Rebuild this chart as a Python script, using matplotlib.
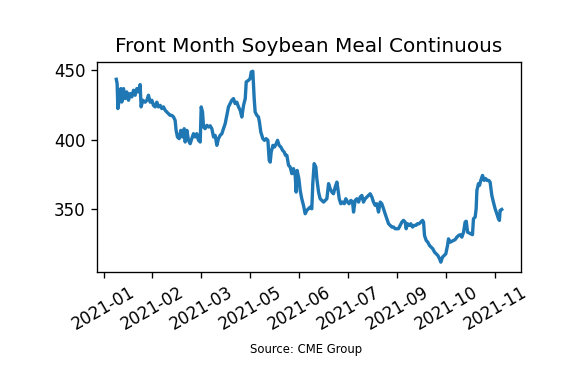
import matplotlib
matplotlib.use("Agg")
import matplotlib.pyplot as plt
import matplotlib.dates as mdates
import pandas as pd


start = pd.Timestamp("2021-01-19 12:00")

# days after start / settle price
days = [
    0.9, 1.6, 2.2, 3.5, 4.6, 5.4, 6.8, 8.2, 9.5, 10.9,
    12.3, 13.6, 15.0, 16.3, 17.7, 19.1, 20.4, 21.2, 22.6, 24.5,
    25.9, 27.2, 28.6, 30.0, 31.3, 32.7, 34.0, 35.4, 36.8, 38.1,
    39.5, 40.9, 42.2, 43.6, 44.9, 46.3, 47.7, 49.0, 49.8, 50.9,
    52.3, 53.7, 55.0, 56.4, 57.2, 58.6, 59.9, 61.3, 62.6, 64.0,
    65.4, 66.7, 68.1, 69.5, 70.3, 71.4, 72.2, 73.5, 74.9, 76.3,
    77.6, 79.0, 80.4, 81.7, 83.1, 84.4, 85.8, 87.2, 88.5, 89.9,
    91.2, 92.6, 94.0, 95.3, 96.7, 98.0, 99.4, 100.8,
    102.2, 103.5, 104.9, 106.3, 107.1, 109.0, 110.3, 111.2, 112.5, 113.6,
    114.4, 115.8, 117.1, 117.9, 119.0, 120.7, 122.0, 123.4, 124.8, 125.9,
    126.7, 127.5, 128.9, 130.2, 131.6, 132.7, 134.0, 135.4, 136.8, 138.1,
    139.2, 140.3, 141.7, 143.0, 144.4, 145.7, 147.1, 147.9, 148.7, 150.1,
    151.2, 152.5, 153.9, 155.3, 156.6, 158.0, 159.4, 160.7, 161.5, 162.6,
    164.0, 164.8, 166.2, 167.5, 168.9, 170.3, 171.6, 173.0, 174.4, 175.7,
    177.1, 178.4, 179.8, 181.2, 182.0, 183.1, 184.4, 185.8, 187.2, 188.5,
    189.9, 191.2, 192.6, 194.0, 194.8, 196.1, 197.5, 198.9, 200.2, 201.6,
    202.9, 204.3, 205.7, 207.0, 208.4, 209.8, 211.1, 212.5, 213.8, 215.2,
    216.6, 217.9, 219.3, 220.6, 222.0, 223.4, 224.7, 226.1, 227.5, 228.8,
    230.2, 231.5, 232.9, 234.3, 235.6, 237.0, 237.8, 238.9, 240.3, 241.6,
    243.0, 244.4, 245.7, 247.1, 248.4, 249.8, 251.2, 252.0, 252.8, 254.2,
    255.5, 256.9, 258.3, 259.6, 261.0, 262.3, 263.7, 265.1, 266.1, 267.5,
    268.9, 270.2, 271.6, 272.4, 273.8, 275.1, 276.5, 277.9, 279.2, 280.6,
    282.0, 283.3, 284.7, 286.0, 286.9, 288.0, 289.3, 290.7, 292.0, 292.8,
    294.2, 295.0, 295.6, 296.9, 297.7, 298.8, 300.2, 301.5, 302.6, 304.0,
    305.3, 306.4, 307.8, 309.1, 310.5, 311.9, 313.2, 314.0, 314.6, 315.9,
]

price = [
    443.5, 440.4, 422.4, 429.6, 436.8, 427.1, 436.8, 429.6, 434.4, 428.4,
    433.2, 430.8, 435.6, 432.0, 436.8, 434.4, 439.7, 423.6, 428.4, 427.0,
    428.4, 432.0, 427.0, 428.4, 424.7, 423.6, 427.0, 423.6, 424.7, 422.4,
    423.6, 421.1, 419.9, 418.7, 417.5, 417.5, 416.3, 413.9, 406.7, 401.9,
    400.7, 406.7, 401.9, 407.9, 398.3, 406.7, 399.5, 397.1, 400.7, 404.3,
    401.9, 404.3, 399.5, 398.3, 423.6, 419.9, 409.1, 407.9, 410.3, 409.1,
    410.0, 407.9, 401.9, 403.1, 395.9, 400.7, 403.1, 404.3, 407.9, 411.5,
    417.5, 423.6, 426.0, 428.4, 429.6, 426.0, 427.0, 423.6,
    421.1, 416.3, 424.7, 429.6, 441.6, 442.8, 444.0, 448.8, 449.3, 429.6,
    419.9, 417.5, 416.3, 412.7, 405.5, 400.7, 399.5, 400.7, 399.5, 385.0,
    383.8, 391.0, 395.9, 394.7, 397.1, 399.5, 395.9, 394.7, 392.3, 391.1,
    388.7, 388.7, 381.5, 380.3, 375.5, 379.1, 374.2, 362.2, 377.8, 371.9,
    363.4, 357.4, 352.6, 346.6, 349.0, 350.2, 351.4, 350.2, 368.3, 382.7,
    380.3, 371.9, 362.2, 357.4, 356.2, 355.0, 356.2, 357.4, 368.3, 364.6,
    362.2, 361.0, 365.8, 369.4, 364.6, 357.4, 353.8, 355.0, 353.8, 357.4,
    355.0, 353.8, 356.2, 355.0, 347.8, 356.2, 357.4, 355.0, 358.6, 359.8,
    355.0, 357.4, 358.6, 359.8, 361.0, 358.6, 355.0, 352.6, 353.8, 347.8,
    355.0, 353.8, 350.2, 346.6, 343.0, 339.4, 338.2, 337.0, 337.0, 335.8,
    335.8, 335.8, 338.2, 340.6, 341.8, 340.6, 335.8, 339.4, 338.2, 339.4,
    337.0, 338.2, 338.2, 339.4, 339.4, 340.6, 341.8, 340.6, 330.9, 327.3,
    326.1, 323.7, 322.5, 321.3, 318.9, 317.7, 316.5, 314.1, 311.7, 315.3,
    316.5, 317.7, 323.7, 328.5, 326.1, 326.7, 327.3, 328.0, 329.7, 330.9,
    331.5, 329.7, 333.3, 340.6, 341.2, 333.3, 332.7, 332.1, 331.5, 343.0,
    344.2, 350.2, 363.4, 368.3, 367.0, 370.6, 374.2, 370.6, 372.0, 370.6,
    370.6, 369.4, 359.8, 355.0, 350.2, 346.6, 343.0, 341.8, 349.0, 349.7,
]

tick_dates = ["2021-01-10", "2021-02-19", "2021-03-31", "2021-05-10", "2021-06-19",
              "2021-07-29", "2021-09-07", "2021-10-17", "2021-11-26"]
y_ticks = [350, 400, 450]

dates = start + pd.to_timedelta(days, unit="D")

W, H = 565, 369
fig = plt.figure(figsize=(W / 120, H / 120), dpi=120)
ax = fig.add_axes([97 / W, 1 - 271.7 / H, (521 - 97) / W, (271.7 - 61.7) / H])

ax.plot(dates, price, color="#1f77b4", linewidth=2)

ax.set_xticks(pd.to_datetime(tick_dates))
ax.xaxis.set_major_formatter(mdates.DateFormatter("%Y-%m"))
ax.set_yticks(y_ticks)
plt.setp(ax.get_xticklabels(), rotation=30)

ax.set_title("Front Month Soybean Meal Continuous")
fig.text(306 / W, 1 - 350 / H, "Source: CME Group", ha="center", va="center", fontsize=7)

fig.savefig("out.png", dpi=120)
